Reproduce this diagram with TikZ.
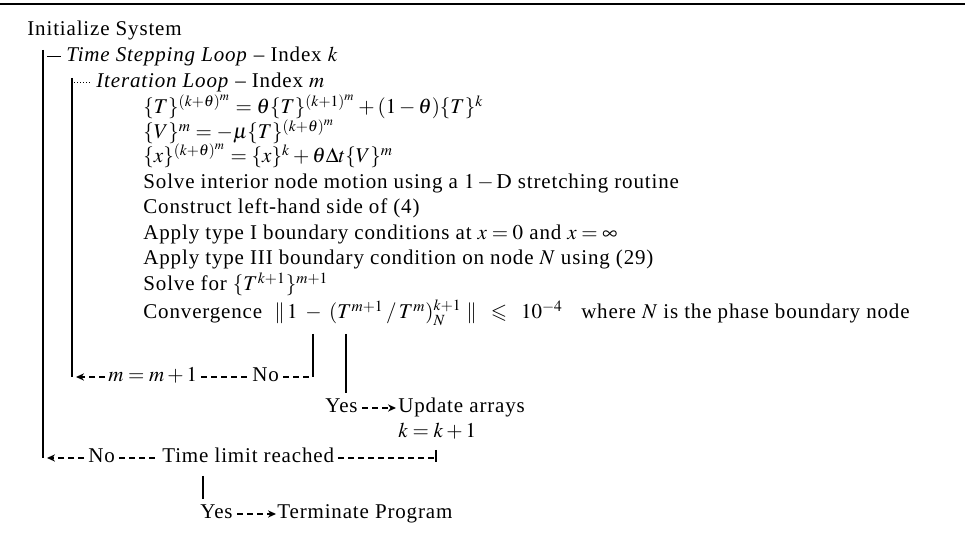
\documentclass[tikz,border=0pt]{standalone}
\usepackage{mathptmx}
\usepackage{amssymb}
\usepackage[no-math]{fontspec}
\setmainfont[LetterSpace=4]{Liberation Serif}
\usetikzlibrary{calc,arrows.meta}
\begin{document}
\begin{tikzpicture}[x=0.5pt,y=-0.5pt,
  lbl/.style={anchor=base west, inner sep=0pt, font=\fontsize{10.5}{12}\selectfont},
  bar/.style={line width=1.1pt},
  dline/.style={line width=0.8pt, dash pattern=on 3pt off 2pt},
  arr/.style={dline, -{Stealth[length=4pt,width=3.6pt]}},
]
\useasboundingbox (0,0) rectangle (971,544);
\draw[line width=1pt] (0,4) -- (965,4);

% texts
\node[lbl] (init) at (27,36) {Initialize System};
\node[lbl] (tsl) at (66,62) {\textit{Time Stepping Loop} -- Index $k$};
\node[lbl] (itl) at (96,88) {\textit{Iteration Loop} -- Index $m$};
\node[lbl] (eq1) at (143,114) {$\{T\}^{(k+\theta)^m}=\theta\{T\}^{(k+1)^m}+(1-\theta)\{T\}^k$};
\node[lbl] (eq2) at (143,139) {$\{V\}^m=-\mu\{T\}^{(k+\theta)^m}$};
\node[lbl] (eq3) at (143,163) {$\{x\}^{(k+\theta)^m}=\{x\}^k+\theta\Delta t\{V\}^m$};
\node[lbl] (s1) at (143,189) {Solve interior node motion using a $1-\mathrm{D}$ stretching routine};
\node[lbl] (s2) at (143,214) {Construct left-hand side of (4)};
\node[lbl] (s3) at (143,240) {Apply type I boundary conditions at $x=0$ and $x=\infty$};
\node[lbl] (s4) at (143,265) {Apply type III boundary condition on node $N$ using (29)};
\node[lbl] (s5) at (143,291) {Solve for $\{T^{k+1}\}^{m+1}$};
\node[lbl] (s6) at (143,319) {Convergence\ \ $\|\,1\;-\;(T^{m+1}\,/\,T^{m})^{k+1}_{N}\;\|\;\;\leqslant\;\;10^{-4}$\ \ \ where $N$ is the phase boundary node};
\node[lbl] (mm) at (108,382) {$m=m+1$};
\node[lbl] (no1) at (252,382) {No};
\node[lbl] (yes1) at (325,413) {Yes};
\node[lbl] (upd) at (398,413) {Update arrays};
\node[lbl] (kk) at (398,438) {$k=k+1$};
\node[lbl] (no2) at (88,463) {No};
\node[lbl] (tl) at (162,463) {Time limit reached};
\node[lbl] (yes2) at (200,519) {Yes};
\node[lbl] (term) at (277,519) {Terminate Program};

% outer loop bar
\coordinate (obt) at (43,50);
\coordinate (obb) at (43,458);
\draw[bar] (obt) -- (obb);
\draw[line width=0.5pt] ($(obt)+(4,7)$) -- ($(tsl.base west)+(-5,-5)$);

% inner loop bar
\coordinate (ibt) at (72,78);
\coordinate (ibb) at (72,377);
\draw[bar] (ibt) -- (ibb);
\draw[line width=0.5pt, densely dotted] ($(ibt)+(2,5)$) -- ($(itl.base west)+(-4,-5)$);

% No branch of convergence
\coordinate (lbt) at (313,334);
\coordinate (lbb) at (313,377);
\draw[bar] (lbt) -- (lbb);
\draw[dline] ($(no1.base east)+(4,-5)$) -- (lbb);
\draw[dline] ($(mm.base east)+(4,-5)$) -- ($(no1.base west)+(-4,-5)$);
\draw[arr, shorten >=2pt] ($(mm.base west)+(-3,-5)$) -- (ibb);

% Yes branch of convergence
\coordinate (rbt) at (346,334);
\draw[bar, shorten >=3pt] (rbt) -- (rbt |- yes1.north);
\draw[arr] ($(yes1.base east)+(4,-5)$) -- ($(upd.base west)+(-2,-5)$);

% time limit
\coordinate (tick) at (436,458);
\draw[dline] ($(tl.base east)+(4,-5)$) -- (tick);
\draw[bar] ($(tick)+(0,-8)$) -- ($(tick)+(0,4)$);
\draw[dline] ($(no2.base east)+(4,-5)$) -- ($(tl.base west)+(-4,-5)$);
\draw[arr, shorten >=2pt] ($(no2.base west)+(-4,-5)$) -- (obb);

% terminate
\coordinate (vbt) at (203,476);
\draw[bar, shorten >=3pt] (vbt) -- (vbt |- yes2.north);
\draw[arr] ($(yes2.base east)+(4,-5)$) -- ($(term.base west)+(-1,-5)$);
\end{tikzpicture}
\end{document}
